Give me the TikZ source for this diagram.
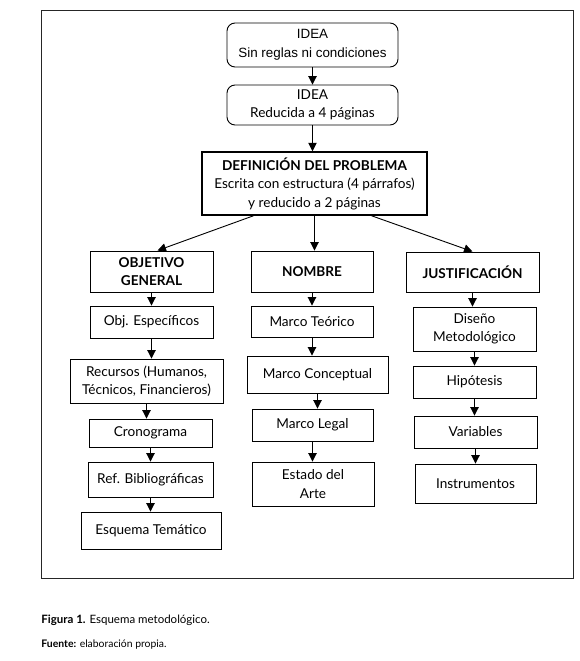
\documentclass[tikz,border=0pt]{standalone}
\usepackage{fontspec}
\setmainfont{Lato}
\newfontfamily\arialfont{Liberation Sans}
\usetikzlibrary{arrows.meta,positioning}

\begin{document}
\begin{tikzpicture}[x=1pt, y=-1pt, >={Triangle[width=8.5pt,length=8.5pt]}, line width=0.9pt,
    box/.style={rectangle, draw, align=center, inner sep=2pt, font=\fontsize{13.6}{18.5}\selectfont},
    ideabox/.style={box, rounded corners=8pt},
    headbox/.style={box, font=\fontsize{13.6}{17.5}\selectfont\bfseries},
    line/.style={draw, ->}]

    \useasboundingbox (0,0) rectangle (580,661);
    \draw[line width=1pt, black!85] (41,11) rectangle (573,578);

    % top of the scheme
    \node[ideabox, font=\arialfont\fontsize{13.4}{19}\selectfont, minimum width=171, minimum height=44] (idea) at (312.5,45) {IDEA\\Sin reglas ni condiciones};
    \node[ideabox, minimum width=171, minimum height=40] (ideared) at (312.5,105) {IDEA\\Reducida a 4 páginas};
    \node[box, line width=1.5pt, minimum width=225, minimum height=63] (defprob) at (314.5,183.5) {\textbf{DEFINICIÓN DEL PROBLEMA}\\Escrita con estructura (4 párrafos)\\y reducido a 2 páginas};

    % left column
    \node[headbox, minimum width=123, minimum height=41] (objgen) at (151.5,271.5) {OBJETIVO\\GENERAL};
    \node[box, minimum width=123, minimum height=32] (objesp) at (151.5,322) {Obj. Específicos};
    \node[box, minimum width=153, minimum height=44] (recursos) at (146.5,381) {Recursos (Humanos,\\Técnicos, Financieros)};
    \node[box, minimum width=123, minimum height=28] (crono) at (150.5,433) {Cronograma};
    \node[box, minimum width=125, minimum height=35] (refbib) at (150.5,479.5) {Ref. Bibliográficas};
    \node[box, minimum width=140, minimum height=37] (esquema) at (151,530.5) {Esquema Temático};

    % middle column
    \node[headbox, minimum width=122, minimum height=41] (nombre) at (312,271.5) {NOMBRE};
    \node[box, minimum width=122, minimum height=31] (mteorico) at (312,321.5) {Marco Teórico};
    \node[box, minimum width=141, minimum height=37] (mconcep) at (317.5,374.5) {Marco Conceptual};
    \node[box, minimum width=121, minimum height=32] (mlegal) at (312.5,425) {Marco Legal};
    \node[box, minimum width=122, minimum height=44] (estado) at (313,484) {Estado del\\Arte};

    % right column
    \node[headbox, minimum width=133, minimum height=40] (justif) at (472.5,272) {JUSTIFICACIÓN};
    \node[box, minimum width=123, minimum height=44] (diseno) at (474.5,329) {Diseño\\Metodológico};
    \node[box, minimum width=123, minimum height=32] (hipot) at (474.5,382) {Hipótesis};
    \node[box, minimum width=123, minimum height=32] (variab) at (475.5,432) {Variables};
    \node[box, minimum width=121, minimum height=39] (instrum) at (475.5,483.5) {Instrumentos};

    % caption
    \node[anchor=west, inner sep=0pt, font=\fontsize{11.5}{14}\selectfont] (fig) at (41,620) {\textbf{Figura 1.} Esquema metodológico.};
    \node[anchor=west, inner sep=0pt, font=\fontsize{10.4}{12}\selectfont] (fuente) at (41,645) {\textbf{Fuente:} elaboración propia.};

    % arrows
    \path[line] (idea) -- (ideared);
    \path[line] (ideared) -- (ideared |- defprob.north);
    \path[line] ([xshift=-61pt]defprob.south) -- ([xshift=6pt]objgen.north);
    \path[line] (defprob) -- (defprob |- nombre.north);
    \path[line] ([xshift=57pt]defprob.south) -- (justif.north);
    \foreach \a/\b in {objgen/objesp, objesp/recursos, recursos/crono, crono/refbib, refbib/esquema,
        nombre/mteorico, mteorico/mconcep, mconcep/mlegal, mlegal/estado,
        justif/diseno, diseno/hipot, hipot/variab, variab/instrum}
        \path[line] (\a) -- (\a |- \b.north);

\end{tikzpicture}
\end{document}
